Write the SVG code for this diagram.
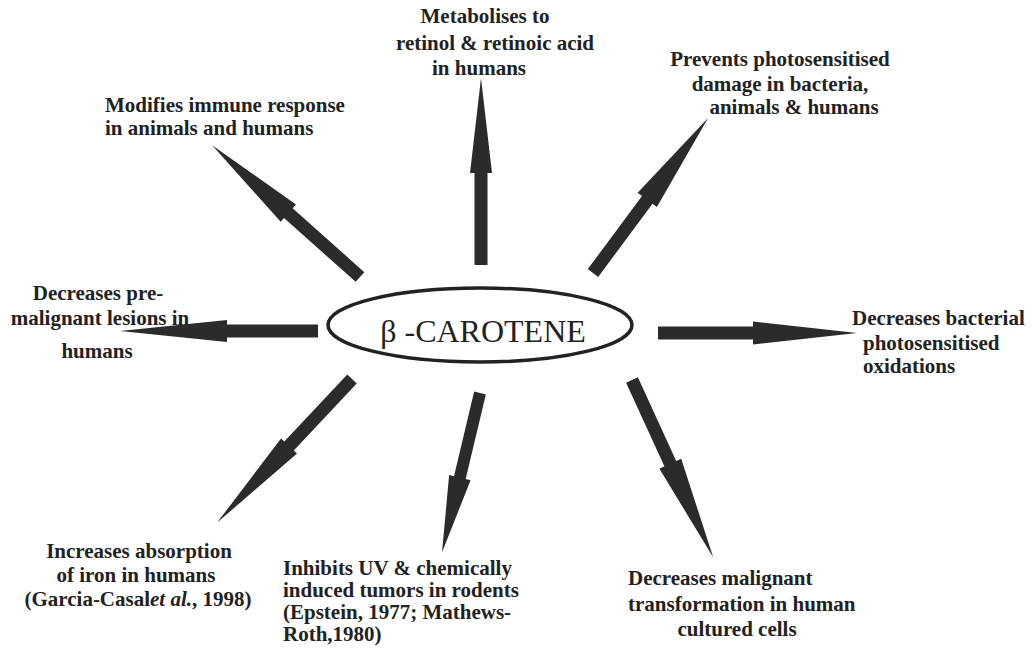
<svg xmlns="http://www.w3.org/2000/svg" width="1032" height="653" viewBox="0 0 1032 653">
<style>
.lbl{font-family:"Liberation Serif","Times New Roman",serif;font-weight:bold;font-size:21px;fill:#222}
.ctr{font-family:"Liberation Serif","Times New Roman",serif;font-size:32px;fill:#222}
.arr{fill:#2b2b2b}
</style>
<rect width="1032" height="653" fill="#ffffff"/>
<g id="connectors">
<polygon class="arr" transform="translate(481,265) rotate(-90)" points="0,-6.5 92,-6.5 92,-11 187,0 92,11 92,6.5 0,6.5"/>
<polygon class="arr" transform="translate(360,277) rotate(221.7)" points="0,-6.5 96,-6.5 96,-11.5 198,0 96,11.5 96,6.5 0,6.5"/>
<polygon class="arr" transform="translate(593,273) rotate(-53.4)" points="0,-6.5 91,-6.5 91,-12 193,0 91,12 91,6.5 0,6.5"/>
<polygon class="arr" transform="translate(318,331) rotate(180)" points="0,-6.5 91,-6.5 91,-11 198,0 91,11 91,6.5 0,6.5"/>
<polygon class="arr" transform="translate(658,333)" points="0,-6.5 95,-6.5 95,-11.5 199,0 95,11.5 95,6.5 0,6.5"/>
<polygon class="arr" transform="translate(352,379) rotate(133.2)" points="0,-6.5 92,-6.5 92,-11 197,0 92,11 92,6.5 0,6.5"/>
<polygon class="arr" transform="translate(480,393) rotate(103.4)" points="0,-6 87,-6 87,-11 164,0 87,11 87,6 0,6"/>
<polygon class="arr" transform="translate(632,380) rotate(65.4)" points="0,-6.5 92,-6.5 92,-12 195,0 92,12 92,6.5 0,6.5"/>
</g>
<g id="center">
<ellipse cx="480" cy="325" rx="152" ry="37" fill="none" stroke="#222" stroke-width="3.5"/>
<text class="ctr" x="483" y="342" text-anchor="middle">β -CAROTENE</text>
</g>
<g id="n-metabolises">
<text class="lbl" x="485" y="23" text-anchor="middle">Metabolises to</text>
<text class="lbl" x="495" y="50" text-anchor="middle">retinol &amp; retinoic acid</text>
<text class="lbl" x="479" y="75" text-anchor="middle">in humans</text>
</g>
<g id="n-immune">
<text class="lbl" x="105" y="112">Modifies immune response</text>
<text class="lbl" x="105" y="135">in animals and humans</text>
</g>
<g id="n-prevents">
<text class="lbl" x="780" y="66" text-anchor="middle">Prevents photosensitised</text>
<text class="lbl" x="780" y="91" text-anchor="middle">damage in bacteria,</text>
<text class="lbl" x="794" y="114" text-anchor="middle">animals &amp; humans</text>
</g>
<g id="n-premalignant">
<text class="lbl" x="98" y="300" text-anchor="middle">Decreases pre-</text>
<text class="lbl" x="100" y="325" text-anchor="middle">malignant lesions in</text>
<text class="lbl" x="97" y="358" text-anchor="middle">humans</text>
</g>
<g id="n-bacterial">
<text class="lbl" x="852" y="325">Decreases bacterial</text>
<text class="lbl" x="863" y="350">photosensitised</text>
<text class="lbl" x="863" y="373">oxidations</text>
</g>
<g id="n-iron">
<text class="lbl" x="139" y="558" text-anchor="middle">Increases absorption</text>
<text class="lbl" x="136" y="582" text-anchor="middle">of  iron in humans</text>
<text class="lbl" x="138" y="606" text-anchor="middle">(Garcia-Casal<tspan font-style="italic">et al.</tspan>, 1998)</text>
</g>
<g id="n-uv">
<text class="lbl" x="283" y="575">Inhibits UV &amp; chemically</text>
<text class="lbl" x="283" y="597">induced tumors in rodents</text>
<text class="lbl" x="283" y="619">(Epstein, 1977; Mathews-</text>
<text class="lbl" x="283" y="641">Roth,1980)</text>
</g>
<g id="n-malignant">
<text class="lbl" x="628" y="585">Decreases malignant</text>
<text class="lbl" x="628" y="611">transformation in human</text>
<text class="lbl" x="737" y="636" text-anchor="middle">cultured cells</text>
</g>
</svg>
